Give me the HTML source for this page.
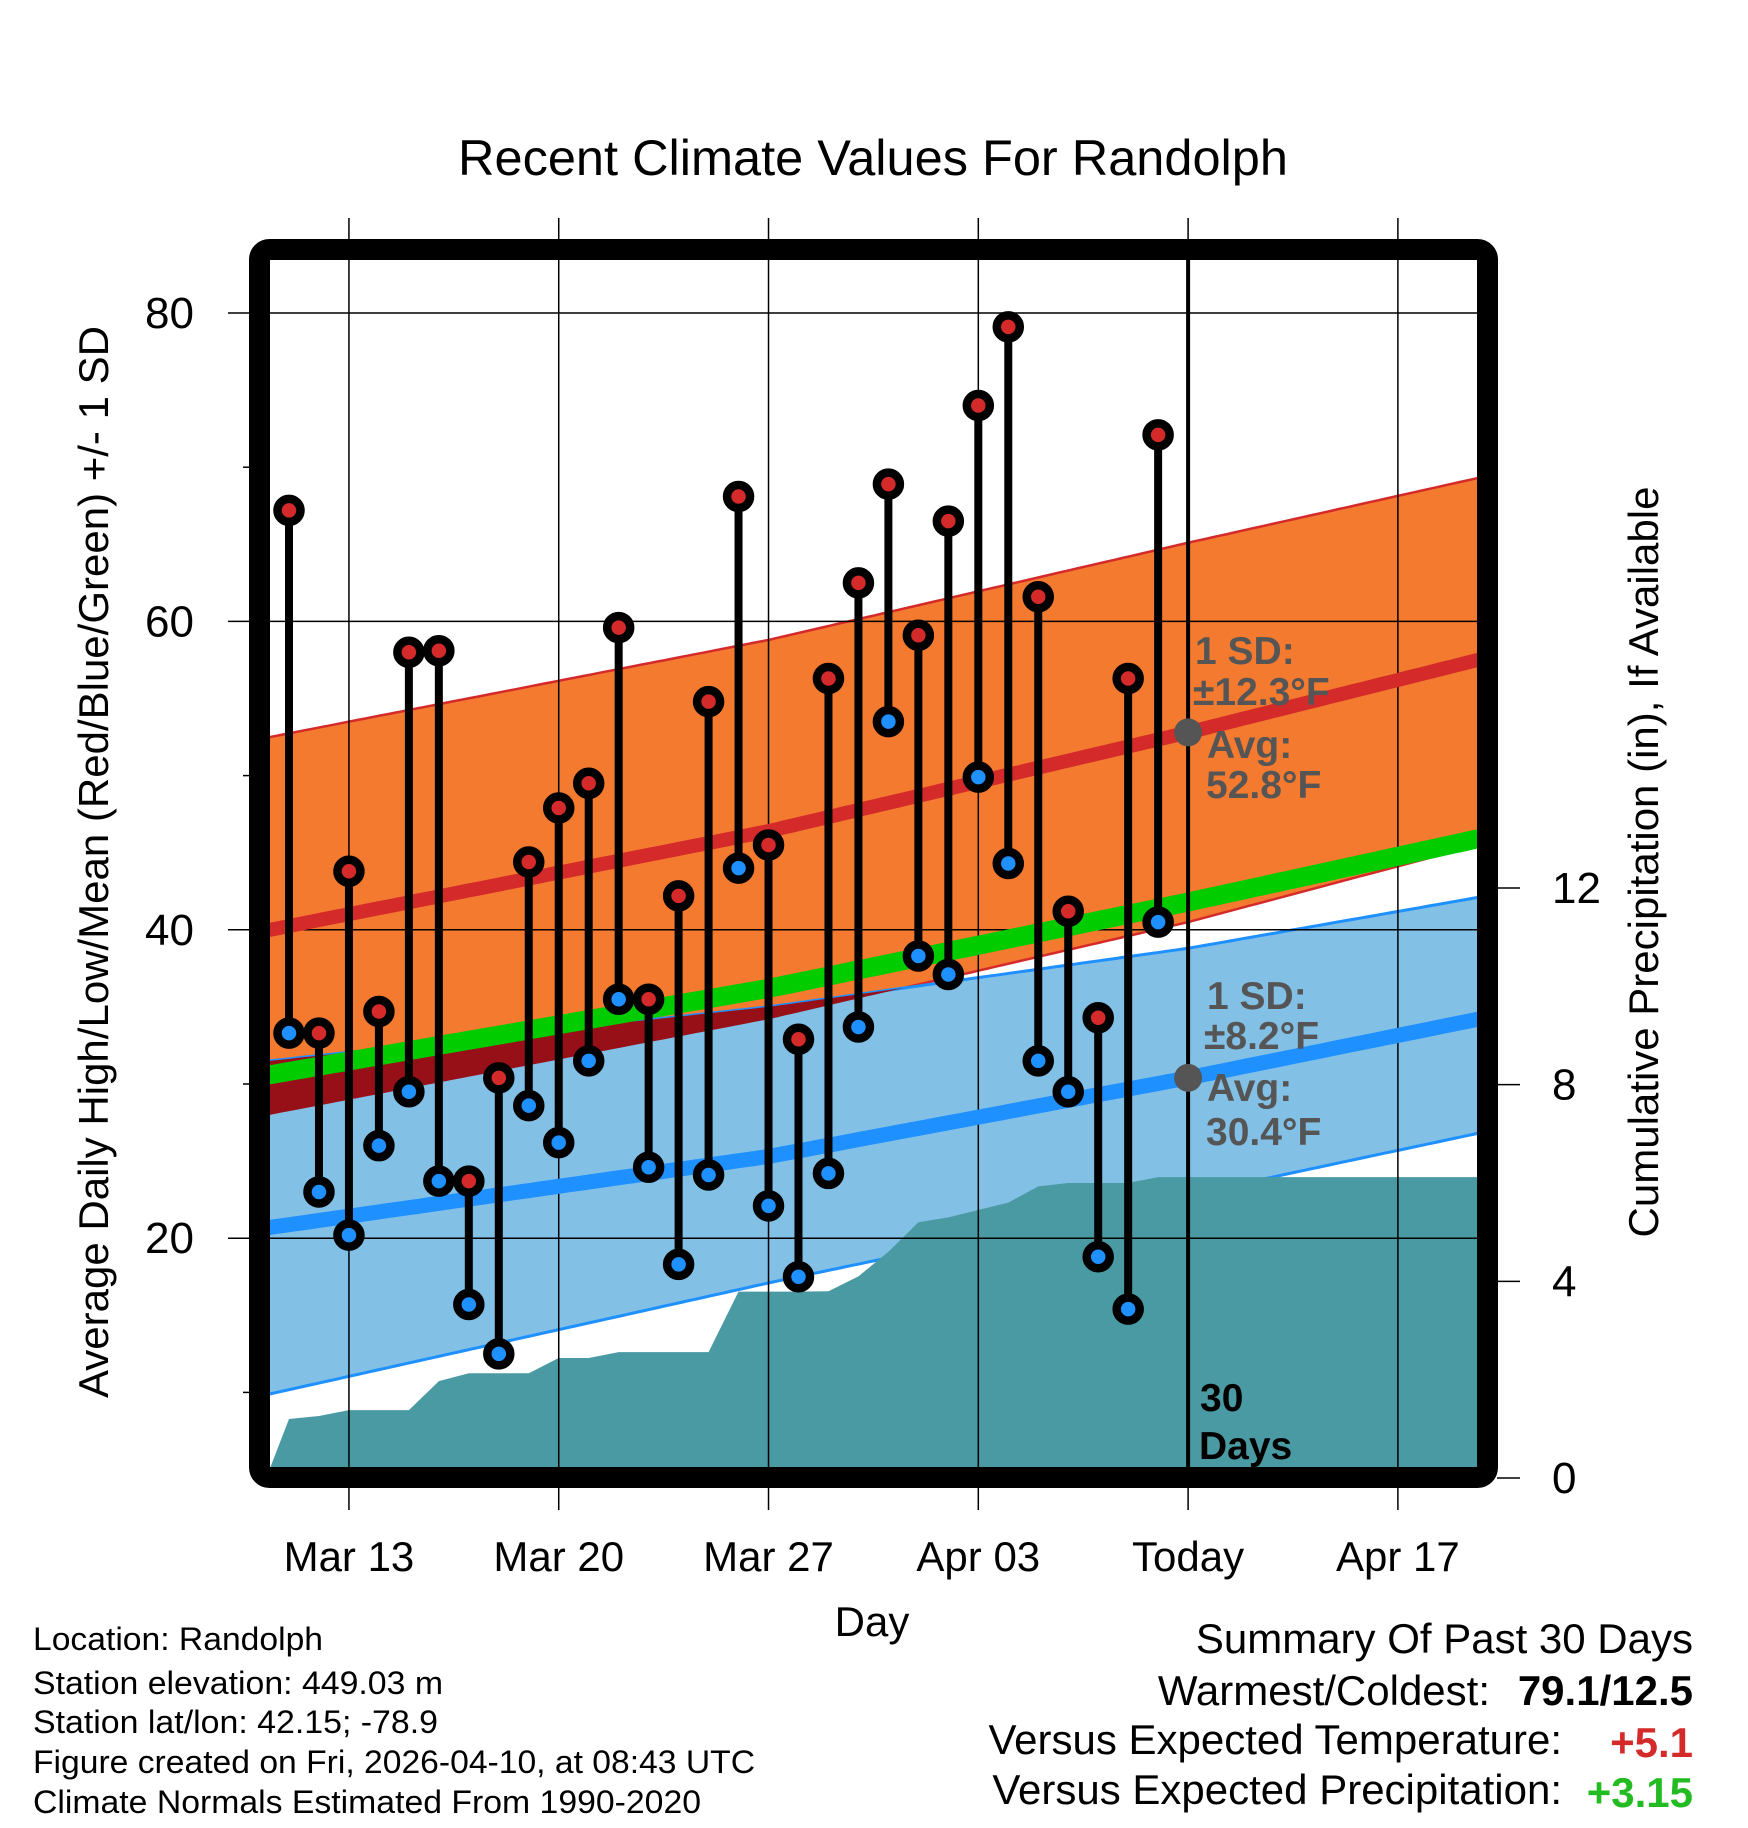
<!DOCTYPE html>
<html><head><meta charset="utf-8"><style>
html,body{margin:0;padding:0;background:#fff;}
svg{display:block;font-family:"Liberation Sans",sans-serif;}
</style></head><body>
<svg id="chart" width="1748" height="1828" viewBox="0 0 1748 1828" xmlns="http://www.w3.org/2000/svg">
<defs><clipPath id="plotclip"><rect x="270" y="260" width="1208" height="1208"/></clipPath></defs>
<rect x="0" y="0" width="1748" height="1828" fill="#fff"/>
<g id="fills" clip-path="url(#plotclip)"></g>
<g id="grid"></g>
<g id="lines" clip-path="url(#plotclip)"></g>
<g id="marks"></g>
<g id="annot"></g>
<rect x="259.5" y="249.5" width="1228" height="1228" rx="10" fill="none" stroke="#000" stroke-width="21"/>
<text x="873" y="175" font-size="50.5" text-anchor="middle">Recent Climate Values For Randolph</text>
<text transform="translate(108,862) rotate(-90)" font-size="42" text-anchor="middle">Average Daily High/Low/Mean (Red/Blue/Green) +/- 1 SD</text>
<text transform="translate(1658,862) rotate(-90)" font-size="42" text-anchor="middle">Cumulative Precipitation (in), If Available</text>
<text x="872" y="1636" font-size="42" text-anchor="middle">Day</text>
<g font-size="32">
<text x="33" y="1650" textLength="290" lengthAdjust="spacingAndGlyphs">Location: Randolph</text>
<text x="33" y="1694" textLength="410" lengthAdjust="spacingAndGlyphs">Station elevation: 449.03 m</text>
<text x="33" y="1733" textLength="405" lengthAdjust="spacingAndGlyphs">Station lat/lon: 42.15; -78.9</text>
<text x="33" y="1773" textLength="722" lengthAdjust="spacingAndGlyphs">Figure created on Fri, 2026-04-10, at 08:43 UTC</text>
<text x="33" y="1813" textLength="668" lengthAdjust="spacingAndGlyphs">Climate Normals Estimated From 1990-2020</text>
</g>
<g font-size="42">
<text x="1693" y="1653" text-anchor="end">Summary Of Past 30 Days</text>
<text x="1490" y="1705" text-anchor="end">Warmest/Coldest:</text>
<text x="1693" y="1705" text-anchor="end" font-weight="bold">79.1/12.5</text>
<text x="1562" y="1754" text-anchor="end">Versus Expected Temperature:</text>
<text x="1693" y="1757" text-anchor="end" font-weight="bold" fill="#d42a2a">+5.1</text>
<text x="1562" y="1804" text-anchor="end">Versus Expected Precipitation:</text>
<text x="1693" y="1807" text-anchor="end" font-weight="bold" fill="#22bb22">+3.15</text>
</g>
</svg>
<script>
// ---- data ----
const highs = [67.2,33.3,43.8,34.7,58.0,58.1,23.7,30.4,44.4,47.9,49.5,59.6,35.5,42.2,54.8,68.1,45.5,32.9,56.3,62.5,68.9,59.1,66.5,74.0,79.1,61.6,41.2,34.3,56.3,72.1];
const lows  = [33.3,23.0,20.2,26.0,29.5,23.7,15.7,12.5,28.6,26.2,31.5,35.5,24.6,18.3,24.1,44.0,22.1,17.5,24.2,33.7,53.5,38.3,37.1,49.9,44.3,31.5,29.5,18.8,15.4,40.5];
const precip = [1.2,1.26,1.38,1.38,1.38,1.97,2.13,2.13,2.13,2.44,2.44,2.56,2.56,2.56,2.56,3.79,3.79,3.79,3.8,4.1,4.6,5.2,5.3,5.45,5.6,5.93,6.0,6.0,6.0,6.12];
const normDays   = [-0.634, 16, 30, 39.67];
const highMean   = [40.0, 46.4, 52.8, 57.5];
const highUpper  = [52.5, 58.8, 65.1, 69.3];
const highLower  = [28.0, 34.2, 40.5, 45.5];
const meanTemp   = [30.6, 36.2, 41.8, 45.9];
const lowMean    = [20.7, 25.3, 30.4, 34.2];
const lowUpper   = [31.5, 35.0, 38.8, 42.1];
const lowLower   = [9.9, 17.1, 22.8, 26.8];
const tempTicks  = [80, 60, 40, 20];
const tempMinor  = [70, 50, 30, 10];
const precipTicks= [0, 4, 8, 12];
const dateTicks  = [2, 9, 16, 23, 30, 37];
const dateLabels = ["Mar 13","Mar 20","Mar 27","Apr 03","Today","Apr 17"];
const todayDay = 30;
// ---- axes ----
const xD = d => 289 + d * 29.97;
const yT = t => 313 + (80 - t) * 15.42;
const yP = p => 1478 - p * 49.17;
const NS = "http://www.w3.org/2000/svg";
function mk(tag, attrs, parent){ const e=document.createElementNS(NS,tag); for(const k in attrs) e.setAttribute(k,attrs[k]); parent.appendChild(e); return e; }
function interp(arr, d){
  for(let i=0;i<normDays.length-1;i++){
    if(d<=normDays[i+1]||i===normDays.length-2){
      const f=(d-normDays[i])/(normDays[i+1]-normDays[i]); return arr[i]+f*(arr[i+1]-arr[i]);
    }
  }
}
const samples=[]; for(let d=-0.7; d<=39.8; d+=0.25) samples.push(d);
function bandPath(up, lo){
  let s=samples.map((d,i)=>(i?'L':'M')+xD(d).toFixed(1)+','+yT(up(d)).toFixed(1)).join('');
  s+=samples.slice().reverse().map(d=>'L'+xD(d).toFixed(1)+','+yT(lo(d)).toFixed(1)).join('')+'Z';
  return s;
}
function linePath(f){ return samples.map((d,i)=>(i?'L':'M')+xD(d).toFixed(1)+','+yT(f(d)).toFixed(1)).join(''); }
const fills=document.getElementById('fills');
let e;
e=mk('path',{d:bandPath(d=>interp(highUpper,d),d=>interp(highLower,d)),fill:'#f47a30',stroke:'#d42a2a','stroke-width':2.5},fills);
 
e=mk('path',{d:bandPath(d=>interp(lowUpper,d),d=>interp(lowLower,d)),fill:'#82c0e6',stroke:'#1e90ff','stroke-width':3},fills);
 
e=mk('path',{d:bandPath(d=>Math.max(interp(highLower,d),Math.min(interp(lowUpper,d),interp(highUpper,d))),d=>interp(highLower,d)),fill:'#971018'},fills);
 
// precip area
let pd='M'+xD(-0.7)+','+yP(0)+' L'+xD(-0.634)+','+yP(0.2);
precip.forEach((p,i)=>{ pd+=' L'+xD(i).toFixed(1)+','+yP(p).toFixed(1); });
pd+=' L'+xD(39.8)+','+yP(precip[precip.length-1])+' L'+xD(39.8)+','+yP(-0.5)+' L'+xD(-0.7)+','+yP(-0.5)+'Z';
e=mk('path',{d:pd,fill:'#4a9aa3'},fills);
 
// grid
const grid=document.getElementById('grid');
dateTicks.forEach((d,i)=>{
  e=mk('line',{x1:xD(d),x2:xD(d),y1:218,y2:1510,stroke:'#000','stroke-width':1.5},grid);
   
  e=mk('text',{x:xD(d),y:1571,'font-size':42,'text-anchor':'middle'},grid); e.textContent=dateLabels[i];
   
});
tempTicks.forEach(t=>{
  e=mk('line',{x1:228,x2:1478,y1:yT(t),y2:yT(t),stroke:'#000','stroke-width':1.5},grid);
   
  e=mk('text',{x:194,y:yT(t)+15,'font-size':44,'text-anchor':'end'},grid); e.textContent=t;
   
});
tempMinor.forEach(t=>{
  e=mk('line',{x1:243,x2:255,y1:yT(t),y2:yT(t),stroke:'#000','stroke-width':1.5},grid);
   
});
precipTicks.forEach(p=>{
  e=mk('line',{x1:1497,x2:1520,y1:yP(p),y2:yP(p),stroke:'#000','stroke-width':1.5},grid);
   
  e=mk('text',{x:1552,y:yP(p)+15,'font-size':44},grid); e.textContent=p;
   
});
// lines
const lines=document.getElementById('lines');
e=mk('path',{d:linePath(d=>interp(highMean,d)),fill:'none',stroke:'#d42a2a','stroke-width':14},lines);
 
e=mk('path',{d:linePath(d=>interp(meanTemp,d)),fill:'none',stroke:'#00cc00','stroke-width':19},lines);
 
e=mk('path',{d:linePath(d=>interp(lowMean,d)),fill:'none',stroke:'#1e90ff','stroke-width':15},lines);
 
e=mk('line',{x1:xD(todayDay),x2:xD(todayDay),y1:260,y2:1468,stroke:'#000','stroke-width':4},lines);
 
// marks
const marks=document.getElementById('marks');
highs.forEach((h,i)=>{
  e=mk('line',{x1:xD(i),x2:xD(i),y1:yT(h),y2:yT(lows[i]),stroke:'#000','stroke-width':8},marks);
   
});
highs.forEach((h,i)=>{
  e=mk('circle',{cx:xD(i),cy:yT(lows[i]),r:11.5,fill:'#1e90ff',stroke:'#000','stroke-width':8.5},marks);
   
  e=mk('circle',{cx:xD(i),cy:yT(h),r:11.5,fill:'#d42a2a',stroke:'#000','stroke-width':8.5},marks);
   
});
// annotations
const an=document.getElementById('annot');
e=mk('circle',{cx:xD(todayDay),cy:yT(interp(highMean,todayDay)),r:14,fill:'#555'},an);
 
e=mk('circle',{cx:xD(todayDay),cy:yT(interp(lowMean,todayDay)),r:14,fill:'#555'},an);
 
const txts=[[1195,664,'1 SD:','#555'],[1193,705,'±12.3°F','#555'],[1207,758,'Avg:','#555'],[1206,798,'52.8°F','#555'],
[1207,1009,'1 SD:','#555'],[1204,1049,'±8.2°F','#555'],[1207,1101,'Avg:','#555'],[1206,1145,'30.4°F','#555'],
[1200,1411,'30','#000'],[1199,1459,'Days','#000']];
txts.forEach(t=>{
  e=mk('text',{x:t[0],y:t[1],'font-size':39,'font-weight':'bold',fill:t[3]},an); e.textContent=t[2];
   
});
</script>
</body></html>
